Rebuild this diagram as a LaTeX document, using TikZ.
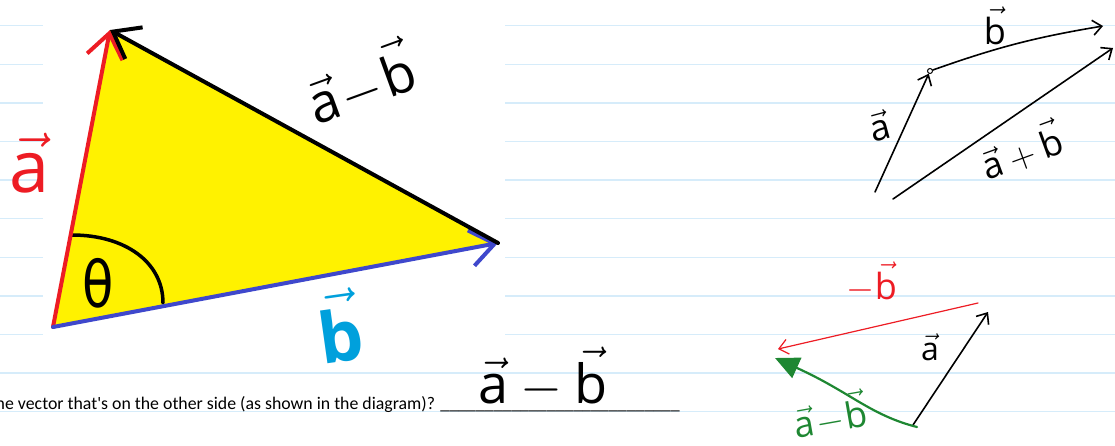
\RequirePackage{fix-cm}
\documentclass[tikz,border=0pt]{standalone}
\usepackage{amsmath}
\usepackage{fontspec}
\usetikzlibrary{arrows.meta}

\newfontfamily\handfont{Open Sans}
\newfontfamily\notefont{Carlito}
\newfontfamily\symfont{DejaVu Sans}

\definecolor{ruled}{RGB}{214,236,250}
\definecolor{penred}{RGB}{237,28,36}
\definecolor{penblue}{RGB}{63,72,204}
\definecolor{pencyan}{RGB}{0,160,220}
\definecolor{pengreen}{RGB}{30,135,50}
\definecolor{fillyellow}{RGB}{255,242,0}

% handwritten vector letter
\newcommand{\hv}[1]{\vec{\text{#1}}}

\tikzset{
  pen/.style={line width=4pt, line cap=round, line join=round},
  thinpen/.style={line width=1.6pt, line cap=round, line join=round},
  bigbarb/.style={-{Straight Barb[length=24pt,width=36pt]}},
  smallbarb/.style={-{Straight Barb[length=9pt,width=15pt]}},
  hand/.style={font=\handfont\fontsize{#1}{#1}\selectfont, inner sep=0pt},
}

\begin{document}
\begin{tikzpicture}[x=1pt, y=-1pt]
\useasboundingbox (0,0) rectangle (1115,445);
\clip (0,0) rectangle (1115,445);

% ruled notebook page
\foreach \k in {0,...,10}
  \draw[ruled, line width=1.4pt] (0,{25.7+38.6*\k}) -- (1115,{25.7+38.6*\k});
\fill[white] (43,0) rectangle (505,350);

% main triangle
\coordinate (O) at (53,327);
\coordinate (A) at (110,30);
\coordinate (B) at (498,243);
\fill[fillyellow] (O) -- (A) -- (B) -- cycle;

\coordinate (arcstart) at (72,235);
\coordinate (arcend) at (163,303);
\draw[pen, line width=3.5pt] (arcstart) .. controls (125,235) and (163,262) .. (arcend);
\node[font=\symfont\fontsize{64}{64}\selectfont, inner sep=0pt, xscale=0.8, transform shape] (theta) at (98,283) {θ};

\draw[pen, penred, bigbarb] (O) -- (A);
\draw[pen, penblue, bigbarb] (O) -- (B);
\draw[pen, black, bigbarb] (B) -- (A);

\node[hand=72, text=penred] (labela) at (30,163) {$\hv{a}$};
\node[hand=54, rotate=20] (labelamb) at (360,82) {$\hv{a}\!-\!\hv{b}$};
\node[hand=70, text=pencyan, rotate=8] (labelb) at (339,326) {\bfseries$\hv{b}$};

% a + b
\coordinate (s0) at (875,192);
\node[circle, draw, inner sep=0pt, minimum size=5pt, line width=1pt] (dot) at (930,71) {};
\coordinate (s1) at (1103,26);
\coordinate (t0) at (893,199);
\coordinate (t1) at (1113,48);
\draw[thinpen, smallbarb] (s0) -- (dot);
\draw[thinpen, smallbarb] (dot) to[bend left=5] (s1);
\draw[thinpen, smallbarb] (t0) -- (t1);
\node[hand=36] (sumb) at (995,26) {$\hv{b}$};
\node[hand=36, rotate=15] (suma) at (879,126) {$\hv{a}$};
\node[hand=36, rotate=20] (sumab) at (1021,150) {$\hv{a}+\hv{b}$};

% a - b
\coordinate (u0) at (913,425);
\coordinate (u1) at (988,312);
\coordinate (v0) at (978,303);
\coordinate (v1) at (778,349);
\coordinate (w0) at (917,427);
\coordinate (w1) at (775,358);
\draw[thinpen, smallbarb] (u0) -- (u1);
\draw[thinpen, penred, line width=1.2pt, smallbarb] (v0) -- (v1);
\draw[thinpen, pengreen, line width=2.2pt, -{Triangle[length=24pt,width=22pt]}]
  (w0) .. controls (870,415) and (850,392) .. (w1);
\node[hand=36, text=penred] (diffb) at (872,282) {$-\hv{b}$};
\node[hand=32] (diffa) at (930,347) {$\hv{a}$};
\node[hand=36, text=pengreen, rotate=10] (diffab) at (830,415) {$\hv{a}\!-\!\hv{b}$};

% question line
\node[font=\notefont\fontsize{17.8}{20}\selectfont, anchor=base east, inner sep=0pt] (question) at (680,409)
  {ne vector that\textquotesingle s on the other side (as shown in the diagram)? \_\_\_\_\_\_\_\_\_\_\_\_\_\_\_\_\_\_\_\_\_\_\_\_\_\_\_};
\node[hand=54, anchor=base west] (answer) at (478,403) {$\hv{a}-\hv{b}$};
\end{tikzpicture}
\end{document}
